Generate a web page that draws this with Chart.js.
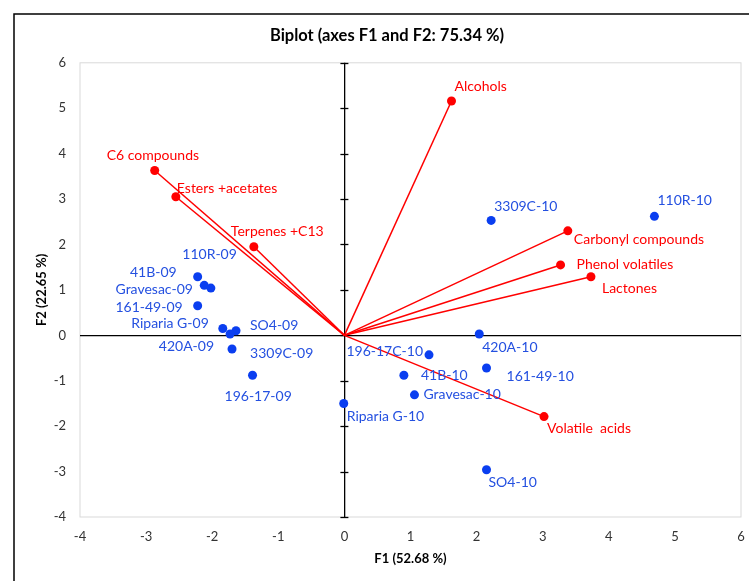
<!DOCTYPE html>
<html>
<head>
<meta charset="utf-8">
<script src="https://cdn.jsdelivr.net/npm/chart.js@4.4.0/dist/chart.umd.min.js"></script>
<style>
  html, body { margin: 0; padding: 0; background: #fff; }
  #wrap { width: 749px; height: 581px; }
</style>
</head>
<body>
<div id="wrap"><canvas id="biplot"></canvas></div>
<script>
// observations (rootstock - vintage)
const obsNames = ["41B-09", "110R-09", "Gravesac-09", "161-49-09", "Riparia G-09", "SO4-09",
  "420A-09", "3309C-09", "196-17-09", "Riparia G-10", "196-17C-10", "420A-10",
  "41B-10", "161-49-10", "Gravesac-10", "SO4-10", "3309C-10", "110R-10"];
const obsF1 = [-2.22, -2.12, -2.02, -2.22, -1.84, -1.64, -1.73, -1.70, -1.39, -0.01,
  1.28, 2.04, 0.90, 2.15, 1.06, 2.15, 2.22, 4.69];
const obsF2 = [1.29, 1.10, 1.04, 0.65, 0.15, 0.10, 0.03, -0.30, -0.88, -1.50,
  -0.43, 0.03, -0.88, -0.72, -1.31, -2.96, 2.53, 2.62];

// variables (volatile families)
const varNames = ["C6 compounds", "Esters +acetates", "Terpenes +C13", "Alcohols",
  "Carbonyl compounds", "Phenol volatiles", "Lactones", "Volatile  acids"];
const varF1 = [-2.87, -2.55, -1.37, 1.62, 3.38, 3.27, 3.73, 3.02];
const varF2 = [3.63, 3.05, 1.95, 5.16, 2.30, 1.55, 1.29, -1.79];

const axisTicks = [-4, -3, -2, -1, 0, 1, 2, 3, 4, 5, 6];

// where each label sits relative to its point: [dx, dy, align]
const obsLabelPos = [
  [-21, -4, "right"], [-22, -31, "left"], [-18, 1, "right"], [-15, 2, "right"],
  [-14, -5, "right"], [14, -5, "left"], [-16, 13, "right"], [18, 5, "left"],
  [-28, 21, "left"], [3, 13, "left"], [-6, -3, "right"], [3, 14, "left"],
  [17, 0, "left"], [20, 8, "left"], [9, 0, "left"], [2, 13, "left"],
  [3, -14, "left"], [3, -16, "left"]
];
const varLabelPos = [
  [-48, -15, "left"], [1, -8, "left"], [-23, -15, "left"], [3, -14, "left"],
  [6, 9, "left"], [16, 0, "left"], [11, 12, "left"], [3, 12, "left"]
];

const RED = "#ff0000";
const BLUE = "#0a3ef0";
const BLUE_TEXT = "#2450e0";
const FONT = "Lato, 'Open Sans', sans-serif";

const datasets = varNames.map((name, i) => ({
  label: name,
  data: [{ x: 0, y: 0 }, { x: varF1[i], y: varF2[i] }],
  showLine: true,
  borderColor: RED,
  borderWidth: 1.5,
  pointRadius: [0, 4.5],
  pointBackgroundColor: RED,
  pointBorderWidth: 0
}));
datasets.push({
  label: "Observations",
  data: obsF1.map((x, i) => ({ x: x, y: obsF2[i] })),
  pointRadius: 4.5,
  pointBackgroundColor: BLUE,
  pointBorderWidth: 0
});

const framePlugin = {
  id: "frame",
  beforeDraw(chart) {
    const { ctx, chartArea: a } = chart;
    ctx.save();
    ctx.fillStyle = "#fff";
    ctx.fillRect(0, 0, chart.width, chart.height);
    ctx.strokeStyle = "#000";
    ctx.lineWidth = 1.5;
    ctx.strokeRect(14, 14, 800, 700);
    ctx.strokeStyle = "#d9d9d9";
    ctx.lineWidth = 1;
    ctx.strokeRect(a.left, a.top, a.right - a.left, a.bottom - a.top);
    ctx.restore();
  }
};

// small tick marks across the vertical axis at x = 0
const axisMarks = {
  id: "axisMarks",
  beforeDatasetsDraw(chart) {
    const { ctx, scales: { x, y } } = chart;
    const x0 = x.getPixelForValue(0);
    ctx.save();
    ctx.strokeStyle = "#000";
    ctx.lineWidth = 1.3;
    y.ticks.forEach(t => {
      const py = Math.round(y.getPixelForValue(t.value)) + 0.5;
      ctx.beginPath();
      ctx.moveTo(x0 - 4, py);
      ctx.lineTo(x0 + 4, py);
      ctx.stroke();
    });
    ctx.restore();
  }
};

const pointLabels = {
  id: "pointLabels",
  afterDatasetsDraw(chart) {
    const { ctx } = chart;
    ctx.save();
    ctx.font = "14px " + FONT;
    ctx.textBaseline = "middle";
    varNames.forEach((name, i) => {
      const el = chart.getDatasetMeta(i).data[1];
      const [dx, dy, align] = varLabelPos[i];
      ctx.fillStyle = RED;
      ctx.textAlign = align;
      ctx.fillText(name, el.x + dx, el.y + dy);
    });
    const meta = chart.getDatasetMeta(varNames.length);
    obsNames.forEach((name, i) => {
      const el = meta.data[i];
      const [dx, dy, align] = obsLabelPos[i];
      ctx.fillStyle = BLUE_TEXT;
      ctx.textAlign = align;
      ctx.fillText(name, el.x + dx, el.y + dy);
    });
    ctx.restore();
  }
};

const zeroLine = c => (c.tick && c.tick.value === 0 ? "#000" : "rgba(0,0,0,0)");
const tickFont = { family: FONT, size: 13 };

new Chart(document.getElementById("biplot"), {
  type: "scatter",
  data: { datasets: datasets },
  options: {
    responsive: true,
    maintainAspectRatio: false,
    animation: false,
    layout: { padding: { left: 25, right: 0, top: 0, bottom: 0 } },
    plugins: {
      legend: { display: false },
      tooltip: { enabled: false },
      title: {
        display: true,
        text: "Biplot (axes F1 and F2: 75.34 %)",
        color: "#000",
        font: { family: FONT, size: 16.5, weight: "bold" },
        padding: { top: 26, bottom: 17 }
      }
    },
    scales: {
      x: {
        type: "linear",
        min: -4,
        max: 6,
        afterBuildTicks: s => { s.ticks = axisTicks.map(v => ({ value: v })); },
        afterFit: s => { s.height = 64; s.paddingRight = 8; },
        grid: { color: zeroLine, lineWidth: 1.3, drawTicks: false },
        border: { display: false },
        ticks: { padding: 12, color: "#333", font: tickFont },
        title: {
          display: true,
          text: "F1 (52.68 %)",
          color: "#000",
          font: { family: FONT, size: 13, weight: "bold" },
          padding: { top: 0, bottom: 14 }
        }
      },
      y: {
        type: "linear",
        min: -4,
        max: 6,
        afterBuildTicks: s => { s.ticks = axisTicks.map(v => ({ value: v })); },
        afterFit: s => { s.width = 55; },
        grid: { color: zeroLine, lineWidth: 1.3, drawTicks: false },
        border: { display: false },
        ticks: { padding: 14, color: "#333", font: tickFont },
        title: {
          display: true,
          text: "F2 (22.65 %)",
          color: "#000",
          font: { family: FONT, size: 13, weight: "bold" },
          padding: { top: 9, bottom: 0 }
        }
      }
    }
  },
  plugins: [framePlugin, axisMarks, pointLabels]
});
</script>
</body>
</html>
